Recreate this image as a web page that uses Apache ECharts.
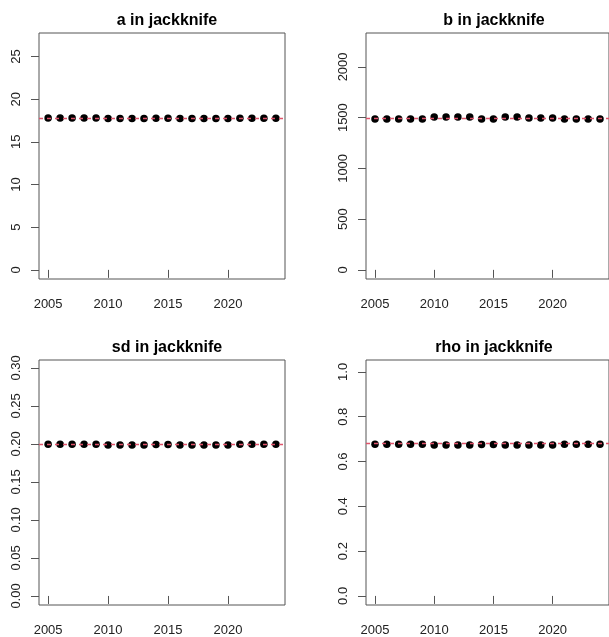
<!DOCTYPE html>
<html>
<head>
<meta charset="utf-8">
<script src="https://cdn.jsdelivr.net/npm/echarts@6/dist/echarts.min.js"></script>
<style>
html,body{margin:0;padding:0;background:#fff;}
#chart{width:609px;height:637px;}
</style>
</head>
<body>
<div id="chart"></div>
<script>
// ---- data ----
const years = [2005,2006,2007,2008,2009,2010,2011,2012,2013,2014,2015,2016,2017,2018,2019,2020,2021,2022,2023,2024];
const aValues = [17.78,17.78,17.78,17.78,17.78,17.74,17.74,17.74,17.74,17.76,17.76,17.74,17.74,17.74,17.74,17.74,17.76,17.76,17.76,17.76];
const bValues = [1486,1486,1486,1486,1486,1506,1506,1506,1506,1486,1486,1506,1506,1496,1496,1496,1486,1486,1486,1486];
const sdValues = [0.1995,0.1995,0.1995,0.1995,0.1995,0.1986,0.1986,0.1986,0.1986,0.1993,0.1993,0.1987,0.1987,0.1987,0.1987,0.1987,0.1995,0.1995,0.1995,0.1995];
const rhoValues = [0.677,0.677,0.677,0.677,0.677,0.674,0.674,0.674,0.674,0.676,0.676,0.674,0.674,0.674,0.674,0.674,0.677,0.677,0.677,0.677];
const refValues = [17.74, 1490, 0.1991, 0.6755];
const titles = ["a in jackknife", "b in jackknife", "sd in jackknife", "rho in jackknife"];
const xTicks = [2005, 2010, 2015, 2020];
const aTicks = [0, 5, 10, 15, 20, 25];
const bTicks = [0, 500, 1000, 1500, 2000];
const sdTicks = [0.00, 0.05, 0.10, 0.15, 0.20, 0.25, 0.30];
const rhoTicks = [0.0, 0.2, 0.4, 0.6, 0.8, 1.0];
const tickDecimals = [0, 0, 2, 1];

// ---- layout / style ----
const panels = [
  {vals: aValues, ticks: aTicks, ymin: -1.07, ymax: 27.75, left: 39, top: 33, width: 246, height: 246},
  {vals: bValues, ticks: bTicks, ymin: -90, ymax: 2334, left: 366, top: 33, width: 246, height: 246},
  {vals: sdValues, ticks: sdTicks, ymin: -0.0119, ymax: 0.3104, left: 39, top: 360, width: 246, height: 245},
  {vals: rhoValues, ticks: rhoTicks, ymin: -0.0405, ymax: 1.053, left: 366, top: 360, width: 246, height: 245}
];
const FONT = "Liberation Sans";
const AX = '#555';
const LBL = '#222';

const grid = [], xAxis = [], yAxis = [], series = [], title = [];
panels.forEach((p, i) => {
  grid.push({left: p.left, top: p.top, width: p.width, height: p.height,
    show: true, borderColor: AX, borderWidth: 1, backgroundColor: 'transparent', containLabel: false});
  xAxis.push({
    type: 'value', gridIndex: i, min: 2004.24, max: 2024.76,
    axisLine: {show: false},
    splitLine: {show: false},
    axisTick: {show: true, length: 8, inside: false, customValues: xTicks, lineStyle: {color: AX, width: 1}},
    axisLabel: {show: true, customValues: xTicks, margin: 19, color: LBL, fontSize: 13, fontFamily: FONT,
      formatter: v => String(v)}
  });
  const d = tickDecimals[i];
  yAxis.push({
    type: 'value', gridIndex: i, min: p.ymin, max: p.ymax,
    axisLine: {show: false},
    splitLine: {show: false},
    axisTick: {show: true, length: 8, inside: false, customValues: p.ticks, lineStyle: {color: AX, width: 1}},
    axisLabel: {show: true, customValues: p.ticks, rotate: 90, margin: 16, color: LBL, fontSize: 13, fontFamily: FONT,
      formatter: v => Number(v).toFixed(d)}
  });
  series.push({
    type: 'scatter', xAxisIndex: i, yAxisIndex: i,
    data: years.map((y, k) => [y, p.vals[k]]),
    symbol: 'circle', symbolSize: 7.5,
    itemStyle: {color: '#000', opacity: 1},
    silent: true,
    markLine: {
      silent: true, symbol: ['none', 'none'], label: {show: false},
      lineStyle: {color: '#DF536B', width: 1.3, type: [4, 4], opacity: 1},
      data: [{yAxis: refValues[i]}],
      animation: false
    },
    animation: false
  });
  title.push({
    text: titles[i],
    left: p.left + p.width / 2, top: p.top - 25, textAlign: 'center',
    textStyle: {fontFamily: FONT, fontWeight: 'bold', fontSize: 16, color: '#000'}
  });
});

const chart = echarts.init(document.getElementById('chart'), null, {renderer: 'canvas'});
chart.setOption({animation: false, backgroundColor: '#fff', title, grid, xAxis, yAxis, series});
</script>
</body>
</html>
